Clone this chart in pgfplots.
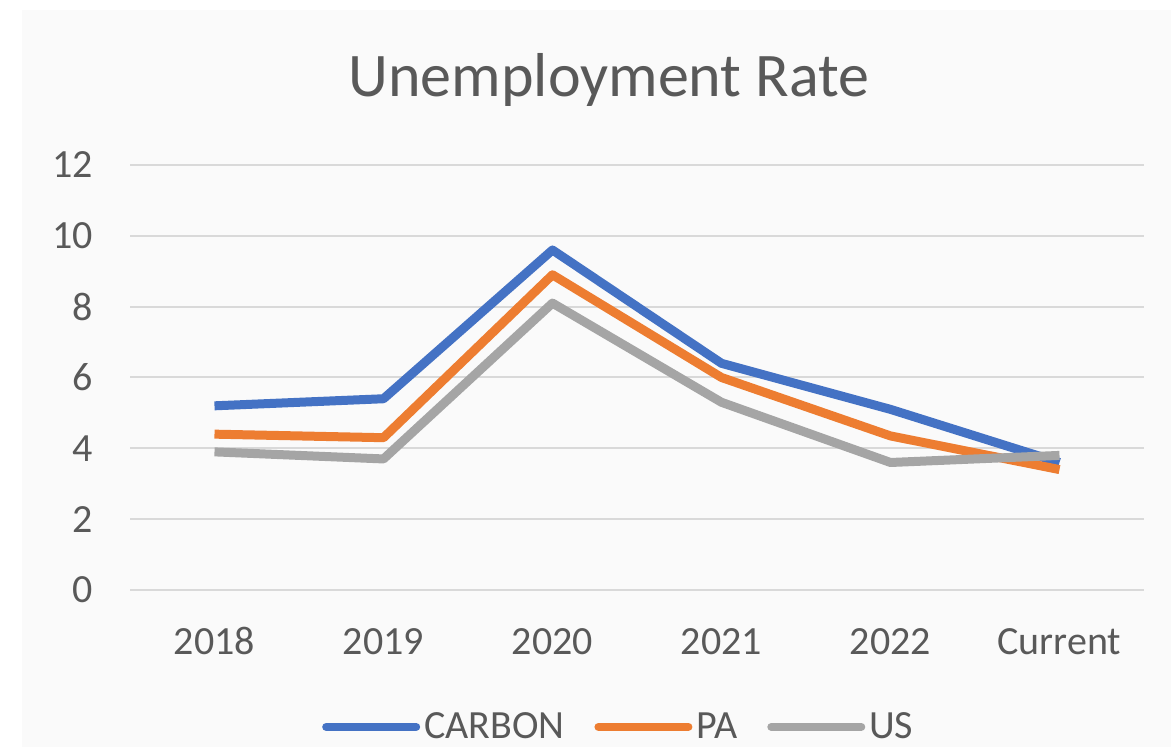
\documentclass[border=0pt]{standalone}
\usepackage{fontspec}
\setmainfont{Carlito}
\usepackage{pgfplots}
\pgfplotsset{compat=1.18}
\definecolor{cblue}{HTML}{4472C4}
\definecolor{corange}{HTML}{ED7D31}
\definecolor{cgray}{HTML}{A5A5A5}
\definecolor{ctext}{HTML}{595959}
\definecolor{cgrid}{HTML}{D9D9D9}
\definecolor{cbg}{HTML}{FAFAFA}
\begin{document}
\begin{tikzpicture}
\useasboundingbox (-65pt,-78.5pt) rectangle (520.5pt,295pt);
\fill[white] (-65pt,-78.5pt) rectangle (520.5pt,295pt);
\fill[cbg] (-54pt,-78.5pt) rectangle (520.5pt,290pt);
\begin{axis}[
  at={(0pt,0pt)}, anchor=south west,
  scale only axis,
  width=507pt, height=212.5pt,
  xmin=-0.5, xmax=5.5, ymin=0, ymax=12,
  xtick={0,1,2,3,4,5},
  xticklabels={2018,2019,2020,2021,2022,Current},
  ytick={0,2,4,6,8,10,12},
  /pgf/number format/assume math mode=true,
  axis line style={draw=none},
  major tick length=0pt,
  ymajorgrids, grid style={cgrid, line width=1pt},
  xticklabel style={font=\fontsize{20}{24}\selectfont, text=ctext, anchor=base, inner sep=0pt, yshift=-32.5pt},
  yticklabel style={font=\fontsize{20}{24}\selectfont, text=ctext, anchor=east, inner sep=0pt, xshift=-18.5pt},
  title={Unemployment Rate},
  title style={font=\fontsize{31}{36}\selectfont, text=ctext, anchor=base, at={(0.4724,1)}, yshift=28pt, inner sep=0pt},
  legend columns=3,
  legend style={at={(0.483,-0.322)}, anchor=center, draw=none, fill=none,
    font=\fontsize{20}{24}\selectfont, text=ctext,
    /tikz/every even column/.append style={column sep=13pt}},
  legend image code/.code={\draw[#1, line width=4pt, line cap=round] (0pt,0pt) -- (45pt,0pt);},
  every axis plot/.append style={line width=4.5pt, line join=round},
]
\addplot[cblue] coordinates {(0,5.2) (1,5.4) (2,9.6) (3,6.4) (4,5.1) (5,3.6)};
\addlegendentry{CARBON}
\addplot[corange] coordinates {(0,4.4) (1,4.3) (2,8.9) (3,6.0) (4,4.35) (5,3.4)};
\addlegendentry{PA}
\addplot[cgray] coordinates {(0,3.9) (1,3.7) (2,8.1) (3,5.3) (4,3.6) (5,3.8)};
\addlegendentry{US}
\end{axis}
\end{tikzpicture}
\end{document}
